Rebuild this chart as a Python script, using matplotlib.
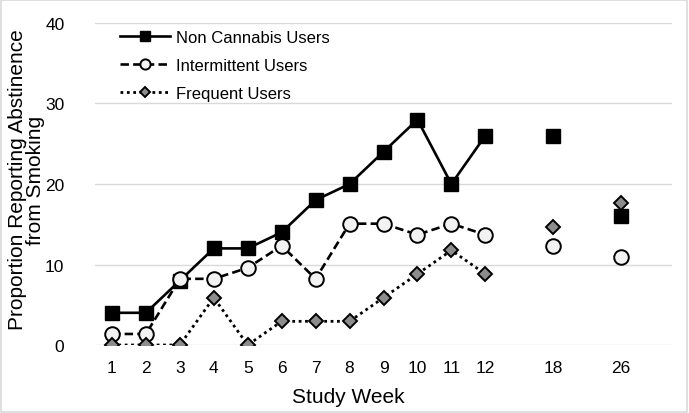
import matplotlib
matplotlib.use("Agg")
import matplotlib.pyplot as plt
import matplotlib.patches as patches
import numpy as np

plt.rcParams["font.family"] = ["Liberation Sans", "DejaVu Sans"]

# Excel-style category axis: blank categories keep the spacing of weeks 18 and 26
weeks = ["1", "2", "3", "4", "5", "6", "7", "8", "9", "10", "11", "12",
         "", "18", "", "26", ""]
nan = np.nan
non_users = [4, 4, 8, 12, 12, 14, 18, 20, 24, 28, 20, 26,
             nan, 26, nan, 16, nan]
intermittent = [1.37, 1.37, 8.22, 8.22, 9.59, 12.33, 8.22, 15.07, 15.07, 13.70, 15.07, 13.70,
                nan, 12.33, nan, 10.96, nan]
frequent = [0, 0, 0, 5.88, 0, 2.94, 2.94, 2.94, 5.88, 8.82, 11.76, 8.82,
            nan, 14.71, nan, 17.65, nan]

x = np.arange(1, len(weeks) + 1)

fig = plt.figure(figsize=(6.89, 4.14), dpi=100)
ax = fig.add_axes([95 / 689, 1 - 346 / 414, (672 - 95) / 689, (346 - 24) / 414])

ax.plot(x, non_users, "-", color="black", lw=1.9, marker="s", ms=10.5,
        mfc="black", mec="black", mew=1.0, label="Non Cannabis Users", zorder=3)
ax.plot(x, intermittent, color="black", lw=1.9, ls=(0, (3.2, 1.6)), marker="o", ms=10.5,
        mfc="#f2f2f2", mec="black", mew=1.4, label="Intermittent Users", zorder=3)
ax.plot(x, frequent, color="black", lw=2.0, ls=(0, (1, 1.3)), marker="D", ms=7,
        mfc="#8c8c8c", mec="black", mew=1.4, label="Frequent Users", zorder=3)

ax.set_xlim(0.5, len(weeks) + 0.5)
ax.set_ylim(0, 40)
ax.set_xticks(x)
ax.set_xticklabels(weeks)
ax.set_yticks([0, 10, 20, 30, 40])
ax.tick_params(axis="both", length=0, labelsize=12.5)
ax.tick_params(axis="y", pad=22)
ax.tick_params(axis="x", pad=11)
ax.grid(axis="y", color="#d9d9d9", lw=1.0, zorder=0)
ax.set_axisbelow(True)
for s in ax.spines.values():
    s.set_visible(False)

ax.set_xlabel("Study Week", fontsize=15)
ax.xaxis.set_label_coords((348 - 95) / 577, -(403 - 346) / 322)
ax.xaxis.label.set_va("baseline")
ax.set_ylabel("Proportion Reporting Abstinence\nfrom Smoking", fontsize=15,
              linespacing=0.9)
ax.yaxis.set_label_coords(-(95 - 45) / 577, (346 - 180) / 322)

ax.legend(loc="upper left", bbox_to_anchor=(120 / 689, 1 - 31 / 414),
          bbox_transform=fig.transFigure, frameon=False, fontsize=12,
          handlelength=3.0, handletextpad=0.35, labelspacing=0.78,
          borderpad=0, borderaxespad=0, markerscale=0.7)

# light chart border
fig.patches.append(patches.Rectangle((0.002, 0.003), 0.995, 0.994, transform=fig.transFigure,
                                     fill=False, edgecolor="#d9d9d9", lw=1.2))

fig.savefig("out.png", dpi=100)
